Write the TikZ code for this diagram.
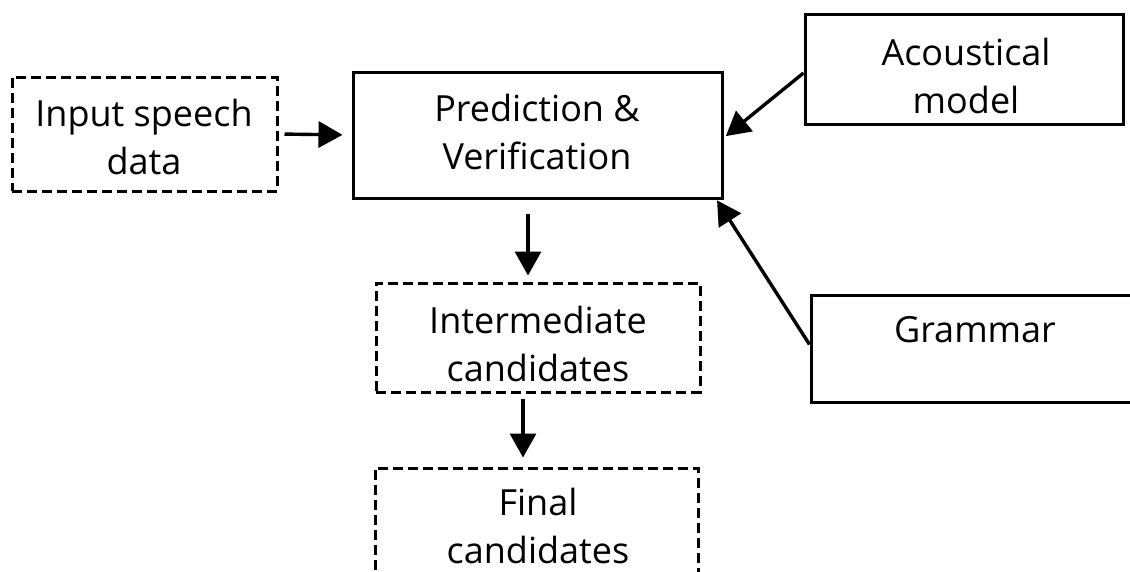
\documentclass[tikz,border=0pt]{standalone}
\usepackage{fontspec}
\setmainfont{Open Sans}
\usetikzlibrary{arrows.meta}

\tikzset{
  box/.style={draw=black, line width=3pt, rectangle, inner sep=0pt},
  dbox/.style={box, dash pattern=on 10pt off 5pt},
  lbl/.style={align=center, font=\fontsize{36}{48}\selectfont, inner sep=0pt},
  flow/.style={line width=3.4pt, -{Triangle[length=24pt,width=26pt]}}
}

\begin{document}
\begin{tikzpicture}[x=1pt, y=-1pt]
  \useasboundingbox (0,0) rectangle (1130,571);
  \clip (0,0) rectangle (1130,571);

  % processing blocks
  \node[dbox, minimum width=265pt, minimum height=114pt] (inp)   at (144.5,134) {};
  \node[box,  minimum width=369pt, minimum height=126pt] (pred)  at (537.5,135) {};
  \node[box,  minimum width=318pt, minimum height=110pt] (acou)  at (964,69) {};
  \node[box,  minimum width=329pt, minimum height=107pt] (gram)  at (975.5,348.5) {};
  \node[dbox, minimum width=324pt, minimum height=109pt] (inter) at (538,337.5) {};
  \node[dbox, minimum width=323pt, minimum height=132pt] (final) at (536.5,534) {};

  % block captions
  \node[lbl] (inp-t)   at (144,137) {Input speech\\data};
  \node[lbl] (pred-t)  at (537,132) {Prediction \&\\Verification};
  \node[lbl] (acou-t)  at (966,76)  {Acoustical\\model};
  \node[lbl] (gram-t)  at (975,330) {Grammar};
  \node[lbl] (inter-t) at (538,344) {Intermediate\\candidates};
  \node[lbl] (final-t) at (538,526) {Final\\candidates};

  % data flow
  \draw[flow, shorten <=6pt, shorten >=9pt] (inp.east) -- (pred.west);
  \draw[flow, shorten >=3pt] ([yshift=-4pt]acou.west) -- ([yshift=-3pt]pred.east);
  \draw[flow, shorten >=1pt] ([yshift=4pt]gram.west) -- ([xshift=-7pt]pred.south east);
  \draw[flow, shorten <=14pt, shorten >=6pt] ([xshift=-9.5pt]pred.south) -- ([xshift=-10pt]inter.north);
  \draw[flow, shorten <=5pt, shorten >=9pt] ([xshift=-15pt]inter.south) -- ([xshift=-13.5pt]final.north);
\end{tikzpicture}
\end{document}
